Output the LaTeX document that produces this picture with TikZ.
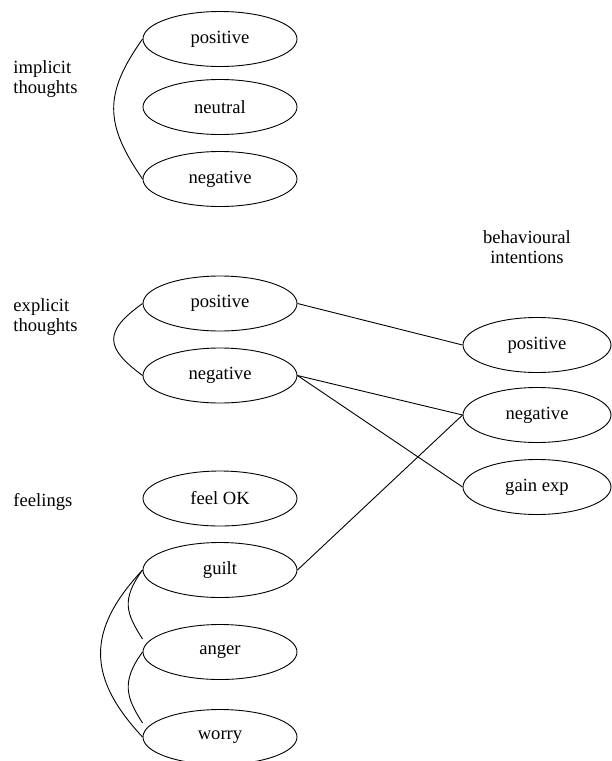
\documentclass[tikz,border=0pt]{standalone}
\usepackage{fontspec}
\setmainfont{Liberation Serif}
\usetikzlibrary{shapes.geometric}

\begin{document}
\begin{tikzpicture}[x=1pt, y=-1pt, line width=0.9pt, font=\fontsize{18.6}{20.5}\selectfont]
\tikzstyle{main}=[ellipse, draw=black, minimum width=154pt, minimum height=55pt, inner sep=0pt]
\tikzstyle{side}=[main, minimum width=148pt]
\tikzstyle{group}=[anchor=west, align=left, inner sep=0pt]
\useasboundingbox (0,0) rectangle (612,761);
% implicit thoughts
\node[group] (lImp) at (13,79) {implicit\\thoughts};
\node[main] (ipos) at (220,39) {positive};
\node[main] (ineu) at (220,107) {neutral};
\node[main] (ineg) at (220,179) {negative};
% explicit thoughts
\node[group] (lExp) at (13,317) {explicit\\thoughts};
\node[main] (epos) at (220,303.5) {positive};
\node[main] (eneg) at (220,375.5) {negative};
% feelings
\node[group] (lFeel) at (13,502) {feelings};
\node[main] (fok) at (220,498.5) {feel OK};
\node[main] (guilt) at (220,570) {guilt};
\node[main] (anger) at (220,652) {anger};
\node[main] (worry) at (220,737) {worry};
% behavioural intentions
\node[align=center, inner sep=0pt] (lBeh) at (527,247) {behavioural\\intentions};
\node[side] (bpos) at (537,345) {positive};
\node[side] (bneg) at (537,415) {negative};
\node[side] (bgain) at (537,487) {gain exp};
\coordinate (angerIn) at ([yshift=13pt]anger.west);
\coordinate (worryIn) at ([yshift=14pt]worry.west);
\draw (ipos.west) .. controls +(-39,55) and +(-38,-55) .. (ineg.west);
\draw (epos.west) .. controls +(-39,28) and +(-38,-28) .. (eneg.west);
\draw (guilt.west) .. controls +(-22,30) and +(-16,-25) .. (angerIn);
\draw (anger.west) .. controls +(-22,30) and +(-16,-25) .. (worryIn);
\draw (guilt.west) .. controls +(-56,60) and +(-56,-60) .. (worry.west);
\path (epos.east) edge (bpos.west)
      (eneg.east) edge (bneg.west)
      (eneg.east) edge (bgain.west)
      (guilt.east) edge (bneg.west)
      ;
\end{tikzpicture}
\end{document}
